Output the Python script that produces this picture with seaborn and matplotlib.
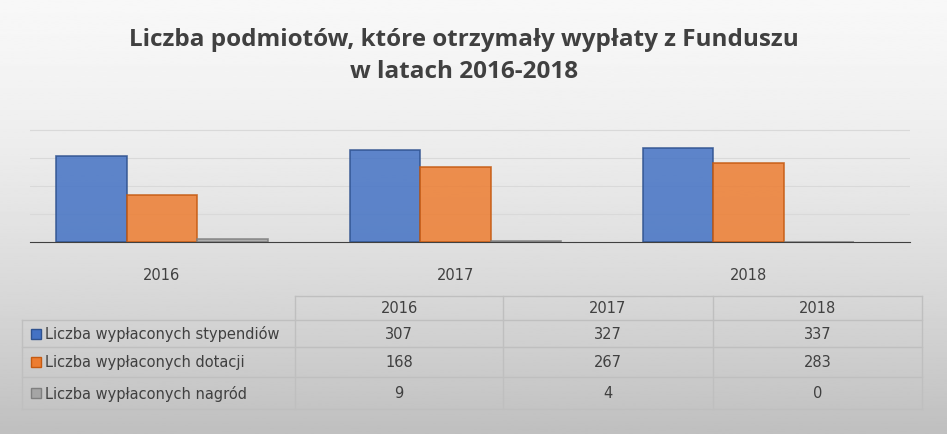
import matplotlib.pyplot as plt
import numpy as np
import pandas as pd
import seaborn as sns
from matplotlib.patches import Rectangle

years = ["2016", "2017", "2018"]
series_names = [
    "Liczba wypłaconych stypendiów",
    "Liczba wypłaconych dotacji",
    "Liczba wypłaconych nagród",
]
stypendia = [307, 327, 337]
dotacje = [168, 267, 283]
nagrody = [9, 4, 0]
colors = ["#4472C4", "#ED7D31", "#A5A5A5"]
edges = ["#2F528F", "#C55A11", "#7F7F7F"]

W, H = 947, 435
df = pd.DataFrame({"rok": years * 3,
                   "seria": np.repeat(series_names, 3),
                   "wartosc": stypendia + dotacje + nagrody})

fig = plt.figure(figsize=(W / 100, H / 100), dpi=100)

# gray gradient background
bg = fig.add_axes([0, 0, 1, 1], zorder=-1)
grad = np.linspace(0, 1, 256).reshape(-1, 1)
bg.imshow(0.97 - 0.22 * grad ** 1.5, cmap="gray", vmin=0, vmax=1, aspect="auto",
          extent=[0, 1, 0, 1])
bg.axis("off")

fig.text(0.49, 1 - 40 / H, "Liczba podmiotów, które otrzymały wypłaty z Funduszu",
         ha="center", va="center", fontsize=17.5, fontweight="bold", color="#404040",
         family="Open Sans")
fig.text(0.49, 1 - 72 / H, "w latach 2016-2018", ha="center", va="center",
         fontsize=17.5, fontweight="bold", color="#404040", family="Open Sans")

ax = fig.add_axes([30 / W, 1 - 243 / H, 880 / W, 140 / H])
sns.barplot(data=df, x="rok", y="wartosc", hue="seria", palette=colors,
            ax=ax, width=0.72, legend=False, saturation=1)
for i, patch in enumerate(ax.patches[:9]):
    patch.set_alpha(0.85)
    patch.set_edgecolor(edges[i // 3])
    patch.set_linewidth(1.2)
ax.set_ylim(0, 500)
ax.set_xlim(-0.45, 2.55)
for y in [100, 200, 300, 400]:
    ax.axhline(y, color="#d9d9d9", lw=0.8, zorder=0)
ax.patch.set_alpha(0)
for s in ["top", "right", "left"]:
    ax.spines[s].set_visible(False)
ax.spines["bottom"].set_color("#404040")
ax.set_yticks([])
ax.set_xlabel("")
ax.set_ylabel("")
ax.tick_params(axis="x", length=0, pad=18, labelsize=10.5, colors="#404040")

# data table
xs = [22, 295, 503, 713, 922]
ys = [297, 321, 348, 378, 410]
tb = fig.add_axes([0, 0, 1, 1], zorder=2)
tb.set_xlim(0, W)
tb.set_ylim(H, 0)
tb.axis("off")
lc = "#bfbfbf"
tb.plot([xs[1], xs[-1]], [ys[0], ys[0]], color=lc, lw=1)
for y in ys[1:]:
    tb.plot([xs[0], xs[-1]], [y, y], color=lc, lw=1)
tb.plot([xs[0], xs[0]], [ys[1], ys[-1]], color=lc, lw=1)
for x in xs[1:]:
    tb.plot([x, x], [ys[0], ys[-1]], color=lc, lw=1)
for j, yr in enumerate(years):
    tb.text((xs[j + 1] + xs[j + 2]) / 2, (ys[0] + ys[1]) / 2, yr, ha="center",
            va="center", fontsize=10.5, color="#404040")
for i, (name, vals) in enumerate(zip(series_names, [stypendia, dotacje, nagrody])):
    yc = (ys[i + 1] + ys[i + 2]) / 2
    tb.add_patch(Rectangle((31, yc - 5), 10, 10, facecolor=colors[i],
                           edgecolor=edges[i], lw=1))
    tb.text(45, yc, name, ha="left", va="center", fontsize=10.5, color="#404040")
    for j, v in enumerate(vals):
        tb.text((xs[j + 1] + xs[j + 2]) / 2, yc, str(v), ha="center", va="center",
                fontsize=10.5, color="#404040")

fig.savefig("out.png", dpi=100)
